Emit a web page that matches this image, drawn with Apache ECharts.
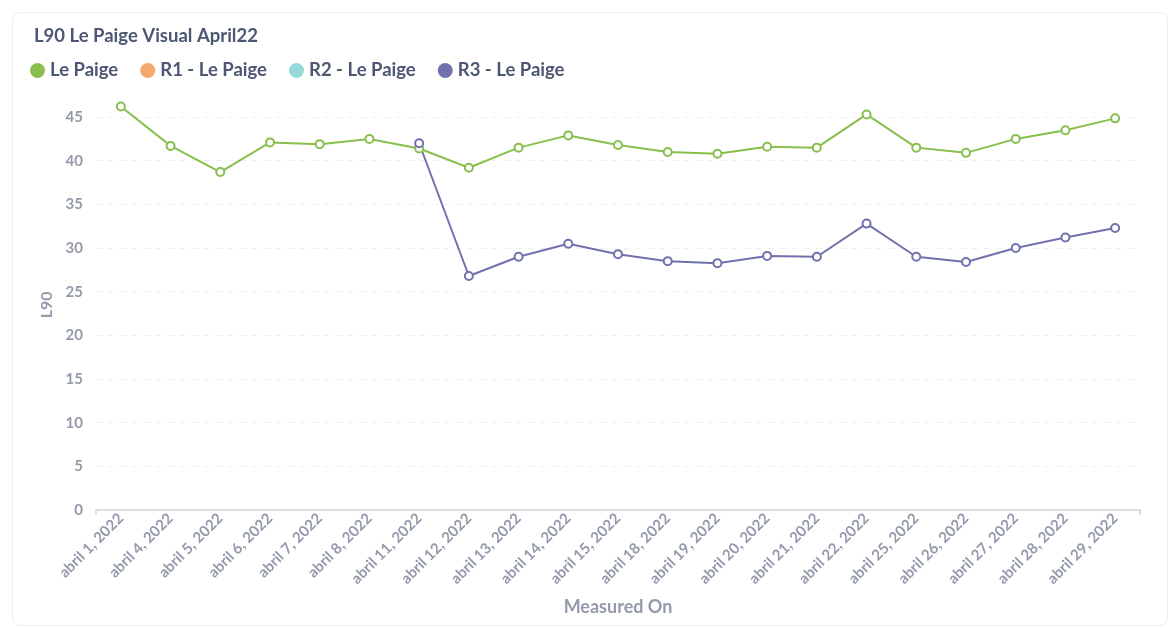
<!DOCTYPE html>
<html>
<head>
<meta charset="utf-8">
<script src="https://cdn.jsdelivr.net/npm/echarts@6/dist/echarts.min.js"></script>
<style>
  html, body { margin: 0; padding: 0; background: #fff; }
  #card {
    position: absolute; left: 12px; top: 12px; width: 1156px; height: 614px;
    border: 1px solid #eceef1; border-radius: 8px; box-sizing: border-box;
  }
  #chart { position: absolute; left: 0; top: 0; width: 1168px; height: 628px; }
</style>
</head>
<body>
<div id="card"></div>
<div id="chart"></div>
<script>
// categories (x axis)
const dates = [
  'abril 1, 2022', 'abril 4, 2022', 'abril 5, 2022', 'abril 6, 2022', 'abril 7, 2022',
  'abril 8, 2022', 'abril 11, 2022', 'abril 12, 2022', 'abril 13, 2022', 'abril 14, 2022',
  'abril 15, 2022', 'abril 18, 2022', 'abril 19, 2022', 'abril 20, 2022', 'abril 21, 2022',
  'abril 22, 2022', 'abril 25, 2022', 'abril 26, 2022', 'abril 27, 2022', 'abril 28, 2022',
  'abril 29, 2022'
]
// series values
const lePaige = [46.2, 41.7, 38.7, 42.1, 41.9, 42.5, 41.4, 39.2, 41.5, 42.9,
  41.8, 41.0, 40.8, 41.6, 41.5, 45.3, 41.5, 40.9, 42.5, 43.5, 44.85]
const r1LePaige = []
const r2LePaige = []
const r3LePaige = [null, null, null, null, null, null, 42.0, 26.8, 29.0, 30.5,
  29.3, 28.5, 28.25, 29.1, 29.0, 32.8, 29.0, 28.4, 30.0, 31.2, 32.3]

const seriesNames = ['Le Paige', 'R1 - Le Paige', 'R2 - Le Paige', 'R3 - Le Paige']
const colors = ['#88bf4d', '#f2a86f', '#98d9d9', '#7172ad']

const labelColor = '#949aab'
const textColor = '#4c5773'

let myChart = echarts.init(document.getElementById('chart'))

const lineSeries = (name, data) => ({
  name: name,
  type: 'line',
  data: data,
  symbol: 'emptyCircle',
  symbolSize: 8,
  lineStyle: { width: 2 },
  itemStyle: { borderWidth: 2 },
  connectNulls: false
})

const options = {
  color: colors,
  textStyle: { fontFamily: 'Lato' },
  title: {
    text: 'L90 Le Paige Visual April22',
    left: 29,
    top: 22,
    textStyle: { color: textColor, fontSize: 18.5, fontWeight: 'bold', fontFamily: 'Lato' }
  },
  legend: {
    data: seriesNames,
    left: 25,
    top: 56,
    icon: 'circle',
    itemWidth: 15,
    itemHeight: 15,
    itemGap: 22,
    textStyle: { color: textColor, fontSize: 18.5, fontWeight: 'bold', fontFamily: 'Lato' }
  },
  grid: {
    left: 96,
    right: 28,
    top: 99.6,
    bottom: 118
  },
  xAxis: {
    type: 'category',
    data: dates,
    boundaryGap: true,
    name: 'Measured On',
    nameLocation: 'middle',
    nameGap: 88,
    nameTextStyle: { color: labelColor, fontSize: 18, fontWeight: 'bold' },
    axisLine: { show: true, lineStyle: { color: '#cfd3d9', width: 1.5 } },
    axisTick: {
      show: true,
      length: 5,
      interval: (i) => i === 0,
      lineStyle: { color: '#cfd3d9', width: 1.5 }
    },
    axisLabel: {
      rotate: 45,
      interval: 0,
      color: labelColor,
      fontSize: 15,
      fontWeight: 'bold',
      margin: 6
    }
  },
  yAxis: {
    type: 'value',
    min: 0,
    max: 47,
    interval: 5,
    name: 'L90',
    nameLocation: 'middle',
    nameGap: 37,
    nameTextStyle: { color: labelColor, fontSize: 16, fontWeight: 'bold' },
    axisLine: { show: false },
    axisTick: { show: false },
    axisLabel: {
      color: labelColor,
      fontSize: 15,
      fontWeight: 'bold',
      margin: 13,
      showMaxLabel: false
    },
    splitLine: {
      show: true,
      showMaxLine: false,
      lineStyle: { color: '#eef0f2', type: [6, 6], width: 1 }
    }
  },
  series: [
    lineSeries(seriesNames[0], lePaige),
    lineSeries(seriesNames[1], r1LePaige),
    lineSeries(seriesNames[2], r2LePaige),
    lineSeries(seriesNames[3], r3LePaige)
  ]
}

myChart.setOption(options)
</script>
</body>
</html>
